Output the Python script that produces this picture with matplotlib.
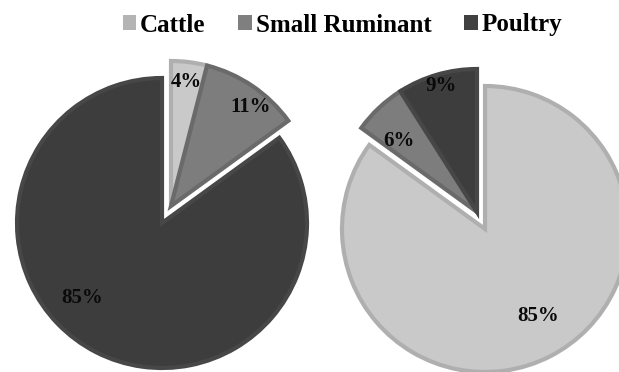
import matplotlib.pyplot as plt
from matplotlib.patches import Patch

# data
categories = ['Cattle', 'Small Ruminant', 'Poultry']
left_values = [4, 11, 85]
right_values = [85, 6, 9]

colors = ['#c9c9c9', '#7d7d7d', '#3d3d3d']
edges = ['#afafaf', '#6a6a6a', '#474747']
legend_colors = ['#b4b4b4', '#7f7f7f', '#404040']

W, H = 619, 372
fig = plt.figure(figsize=(W / 100, H / 100), dpi=100)
ax = fig.add_axes([0, 0, 1, 1])

font = dict(family='Liberation Serif', weight='bold')


def draw_pie(values, center, radius, exploded, shift, label_pos):
    wedges, _ = ax.pie(values, colors=colors, startangle=90, counterclock=False,
                       center=center, radius=radius)
    for i, w in enumerate(wedges):
        w.set_edgecolor(edges[i])
        w.set_linewidth(3)
        if i in exploded:
            cx, cy = w.center
            w.set_center((cx + shift[0], cy + shift[1]))
        ax.text(*label_pos[i], '%d%%' % values[i], ha='center', va='center',
                fontsize=15, color='#0a0a0a', **font)
    return wedges


draw_pie(left_values, (162, 149), 145, [0, 1], (9, 17),
         [(186, 290), (251, 265), (82, 74)])
draw_pie(right_values, (485, 143), 143, [1, 2], (-8, 17),
         [(538, 56), (399, 231), (441, 286)])

ax.set_xlim(0, W)
ax.set_ylim(0, H)
ax.set_aspect('equal')
ax.axis('off')

handles = [Patch(facecolor=c, edgecolor='none') for c in legend_colors]
fig.legend(handles, categories, loc='center', bbox_to_anchor=(0.553, 1 - 25 / H),
           ncol=3, frameon=False, prop=dict(size=18, **font),
           handlelength=0.55, handleheight=0.55, handletextpad=0.15, columnspacing=1.3)

fig.savefig('out.png', dpi=100)
